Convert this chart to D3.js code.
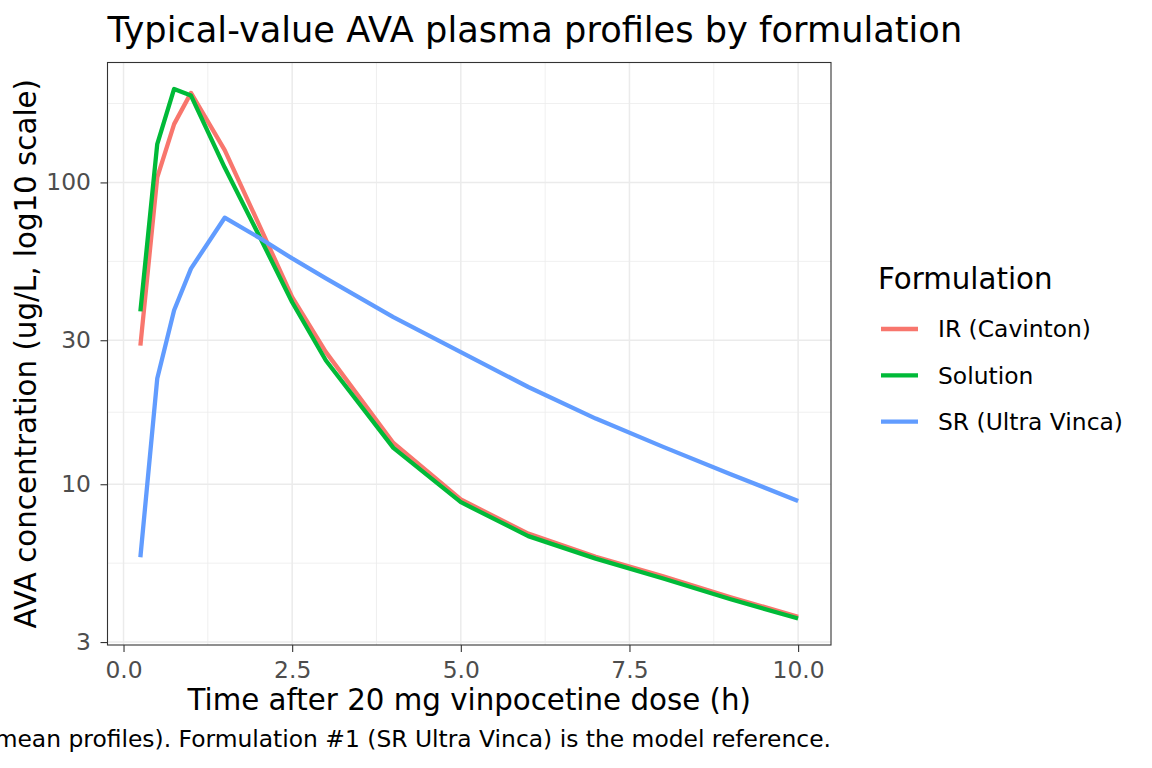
<!DOCTYPE html>
<html>
<head>
<meta charset="utf-8">
<script src="https://cdn.jsdelivr.net/npm/d3@7"></script>
<style>
	body { margin: 0; background: #fff; }
	text { font-family: 'DejaVu Sans', sans-serif; }
</style>
</head>
<body>
<svg id="chart" width="1152" height="768"></svg>
<script>
'use strict'

// sampling times (h)
let	times = [0.25, 0.5, 0.75, 1, 1.5, 2, 2.5, 3, 4, 5, 6, 7, 8, 9, 10]

// typical-value concentrations (ug/L)
let	irCavinton = [28.8, 104, 156, 198, 128, 73.2, 41.7, 27.4, 13.7, 8.9, 6.86, 5.75, 4.95, 4.22, 3.64]
let	solution = [37.4, 134, 204, 194, 112, 67.3, 40.1, 25.7, 13.2, 8.72, 6.73, 5.67, 4.87, 4.16, 3.59]
let	srUltraVinca = [5.73, 22.4, 37.7, 51.8, 76.4, 65.8, 56.0, 48.1, 35.8, 27.4, 21.0, 16.5, 13.3, 10.8, 8.8]

let	seriesNames = ['IR (Cavinton)', 'Solution', 'SR (Ultra Vinca)']
let	seriesValues = [irCavinton, solution, srUltraVinca]
let	seriesColors = ['#F8766D', '#00BA38', '#619CFF']

let	xTicks = [0, 2.5, 5, 7.5, 10]
let	yTicks = [3, 10, 30, 100]

let	titleText = 'Typical-value AVA plasma profiles by formulation'
let	xTitle = 'Time after 20 mg vinpocetine dose (h)'
let	yTitle = 'AVA concentration (ug/L, log10 scale)'
let	captionText = 'mean profiles). Formulation #1 (SR Ultra Vinca) is the model reference.'
let	legendTitle = 'Formulation'

let	svg = d3.select('#chart')
let	panel = {left: 107.5, top: 62.5, right: 831, bottom: 645}
let	smallFont = '23.4px'
let	titleFont = '29.3px'

// ggplot style 5% expansion, y expanded in log space
let	xExt = d3.extent(times)
let	xPad = (xExt[1] - xExt[0]) * 0.05
let	allVals = [].concat(...seriesValues)
let	lyExt = d3.extent(allVals).map(Math.log10)
let	lyPad = (lyExt[1] - lyExt[0]) * 0.05

let	x = d3.scaleLinear()
	.domain([xExt[0] - xPad, xExt[1] + xPad])
	.range([panel.left, panel.right])
let	y = d3.scaleLog()
	.domain([Math.pow(10, lyExt[0] - lyPad), Math.pow(10, lyExt[1] + lyPad)])
	.range([panel.bottom, panel.top])

// minor breaks halfway between majors (in transformed space), like ggplot
function minorBreaks(b, lim, tf, inv) {
	let	t = b.map(tf)
	let	bd = t[1] - t[0]
	t = [t[0] - bd].concat(t, [t[t.length - 1] + bd])
	let	out = []
	for (let i = 0; i < t.length - 1; i++) {
		let m = inv((t[i] + t[i + 1]) / 2)
		if (m >= lim[0] && m <= lim[1]) out.push(m)
	}
	return out
}
let	xMinor = minorBreaks(xTicks, x.domain(), d => d, d => d)
let	yMinor = minorBreaks(yTicks, y.domain(), Math.log10, d => Math.pow(10, d))

let	grid = svg.append('g')
grid.selectAll('.xminor').data(xMinor).enter().append('line')
	.attr('x1', d => x(d)).attr('x2', d => x(d))
	.attr('y1', panel.top).attr('y2', panel.bottom)
	.attr('stroke', '#ebebeb').attr('stroke-width', 0.8)
grid.selectAll('.yminor').data(yMinor).enter().append('line')
	.attr('x1', panel.left).attr('x2', panel.right)
	.attr('y1', d => y(d)).attr('y2', d => y(d))
	.attr('stroke', '#ebebeb').attr('stroke-width', 0.8)
grid.selectAll('.xmajor').data(xTicks).enter().append('line')
	.attr('x1', d => x(d)).attr('x2', d => x(d))
	.attr('y1', panel.top).attr('y2', panel.bottom)
	.attr('stroke', '#ebebeb').attr('stroke-width', 1.5)
grid.selectAll('.ymajor').data(yTicks).enter().append('line')
	.attr('x1', panel.left).attr('x2', panel.right)
	.attr('y1', d => y(d)).attr('y2', d => y(d))
	.attr('stroke', '#ebebeb').attr('stroke-width', 1.5)

// the three profiles
let	line = d3.line()
	.x(d => x(d[0]))
	.y(d => y(d[1]))
svg.append('g').selectAll('path')
	.data(seriesValues)
	.enter().append('path')
	.attr('d', vals => line(times.map((t, i) => [t, vals[i]])))
	.attr('fill', 'none')
	.attr('stroke', (d, i) => seriesColors[i])
	.attr('stroke-width', 4.3)
	.attr('stroke-linejoin', 'round')

svg.append('rect')
	.attr('x', panel.left).attr('y', panel.top)
	.attr('width', panel.right - panel.left)
	.attr('height', panel.bottom - panel.top)
	.attr('fill', 'none')
	.attr('stroke', '#333333')
	.attr('stroke-width', 1.1)

// axes
let	xAxis = svg.append('g')
	.attr('transform', 'translate(0,' + panel.bottom + ')')
	.call(d3.axisBottom(x).tickValues(xTicks).tickFormat(d3.format('.1f')).tickSize(7).tickPadding(9.5))
let	yAxis = svg.append('g')
	.attr('transform', 'translate(' + panel.left + ',0)')
	.call(d3.axisLeft(y).tickValues(yTicks).tickFormat(d3.format('d')).tickSize(7).tickPadding(9.5))
for (let ax of [xAxis, yAxis]) {
	ax.select('.domain').remove()
	ax.selectAll('line').attr('stroke', '#333333').attr('stroke-width', 1.1)
	ax.selectAll('text')
		.attr('fill', '#4d4d4d')
		.style('font-size', smallFont)
		.style('font-family', "'DejaVu Sans', sans-serif")
}

// titles
svg.append('text')
	.attr('x', panel.left).attr('y', 42)
	.style('font-size', '35.2px')
	.text(titleText)
svg.append('text')
	.attr('x', (panel.left + panel.right) / 2).attr('y', 710)
	.attr('text-anchor', 'middle')
	.style('font-size', titleFont)
	.text(xTitle)
svg.append('text')
	.attr('transform', 'translate(36,' + ((panel.top + panel.bottom) / 2) + ') rotate(-90)')
	.attr('text-anchor', 'middle')
	.style('font-size', titleFont)
	.text(yTitle)
svg.append('text')
	.attr('x', panel.right).attr('y', 747)
	.attr('text-anchor', 'end')
	.style('font-size', smallFont)
	.text(captionText)

// legend
let	legend = svg.append('g').attr('transform', 'translate(878,0)')
legend.append('text')
	.attr('x', 0).attr('y', 289)
	.style('font-size', titleFont)
	.text(legendTitle)
let	keys = legend.selectAll('.key')
	.data(seriesNames)
	.enter().append('g')
	.attr('transform', (d, i) => 'translate(0,' + (329 + i * 46.3) + ')')
keys.append('line')
	.attr('x1', 3).attr('x2', 40)
	.attr('y1', 0).attr('y2', 0)
	.attr('stroke', (d, i) => seriesColors[i])
	.attr('stroke-width', 4.3)
keys.append('text')
	.attr('x', 60).attr('y', 0)
	.attr('dy', '0.35em')
	.style('font-size', smallFont)
	.text(d => d)
</script>
</body>
</html>
